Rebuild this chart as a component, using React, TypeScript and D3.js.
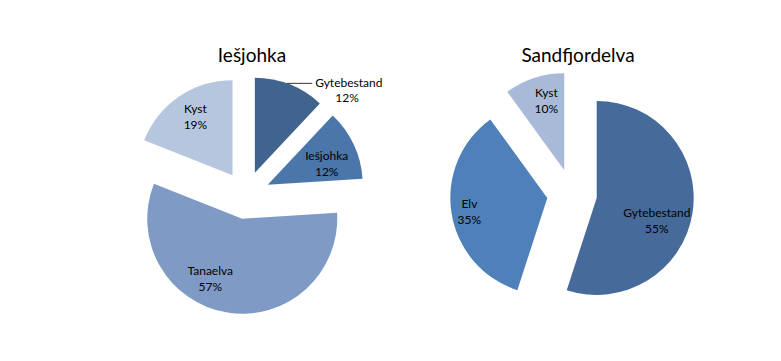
import { useEffect, useRef } from 'react';
import * as d3 from 'd3';

// Iešjohka
const leftCategories = ['Gytebestand', 'Iešjohka', 'Tanaelva', 'Kyst'];
const leftValues = [12, 12, 57, 19];
const leftColors = ['#41648f', '#4a76aa', '#7f9bc5', '#b7c6df'];

// Sandfjordelva
const rightCategories = ['Gytebestand', 'Elv', 'Kyst'];
const rightValues = [55, 35, 10];
const rightColors = ['#466a9a', '#4f80ba', '#a8bad7'];

// label placement relative to the exploded slice apex: [angle deg, distance], null = outside with leader
const leftLabelPos: ([number, number] | null)[] = [null, [69.5, 63], [208.5, 67], [328, 70]];
const rightLabelPos: ([number, number] | null)[] = [[110, 64], [260.5, 79], [345.6, 72]];

interface PieSpec {
  title: string;
  cats: string[];
  vals: number[];
  colors: string[];
  labels: ([number, number] | null)[];
  cx: number;
  cy: number;
  r: number;
  explode: number;
}

const pies: PieSpec[] = [
  { title: 'Iešjohka', cats: leftCategories, vals: leftValues, colors: leftColors, labels: leftLabelPos, cx: 246, cy: 195, r: 95, explode: 24 },
  { title: 'Sandfjordelva', cats: rightCategories, vals: rightValues, colors: rightColors, labels: rightLabelPos, cx: 572, cy: 194, r: 97, explode: 25 },
];

const App = () => {
  const svgRef = useRef<SVGSVGElement | null>(null);

  useEffect(() => {
    const svg = d3.select(svgRef.current);
    svg.selectAll('*').remove();
    const font = 'Lato, "Open Sans", sans-serif';

    pies.forEach((p) => {
      const data = p.vals.map((v, i) => ({ name: p.cats[i], value: v, color: p.colors[i], lab: p.labels[i] }));
      const arcs = d3.pie<any>().sort(null).value((d) => d.value)(data);
      const arcGen = d3.arc<any>().innerRadius(0).outerRadius(p.r);
      const total = d3.sum(p.vals);

      const g = svg.append('g').attr('transform', `translate(${p.cx},${p.cy})`);

      svg.append('text')
        .attr('x', p.cx + 6)
        .attr('y', 62)
        .attr('text-anchor', 'middle')
        .attr('font-family', font)
        .attr('font-size', 19)
        .attr('fill', '#000')
        .text(p.title);

      arcs.forEach((a) => {
        const mid = (a.startAngle + a.endAngle) / 2;
        const ox = Math.sin(mid) * p.explode;
        const oy = -Math.cos(mid) * p.explode;
        const sg = g.append('g').attr('transform', `translate(${ox},${oy})`);
        sg.append('path').attr('d', arcGen(a) as string).attr('fill', a.data.color);

        const pct = `${Math.round((a.data.value / total) * 100)}%`;
        const lab = a.data.lab as [number, number] | null;
        let lx: number;
        let ly: number;
        let anchor = 'middle';
        if (lab) {
          const ang = (lab[0] * Math.PI) / 180;
          lx = Math.sin(ang) * lab[1];
          ly = -Math.cos(ang) * lab[1];
          const t = sg.append('text')
            .attr('font-family', font)
            .attr('font-size', 12)
            .attr('fill', '#000')
            .attr('text-anchor', anchor);
          t.append('tspan').attr('x', lx).attr('y', ly - 3).text(a.data.name);
          t.append('tspan').attr('x', lx).attr('y', ly + 13).text(pct);
        } else {
          const ang = mid - 0.03;
          const px = Math.sin(ang) * p.r;
          const py = -Math.cos(ang) * p.r;
          sg.append('line')
            .attr('x1', px).attr('y1', py)
            .attr('x2', px + 25).attr('y2', py)
            .attr('stroke', '#000').attr('stroke-width', 0.8);
          lx = px + 28;
          ly = py;
          sg.append('text')
            .attr('x', lx).attr('y', ly + 4)
            .attr('font-family', font).attr('font-size', 12).attr('fill', '#000')
            .text(a.data.name);
          sg.append('text')
            .attr('x', lx + 32).attr('y', ly + 19)
            .attr('text-anchor', 'middle')
            .attr('font-family', font).attr('font-size', 12).attr('fill', '#000')
            .text(pct);
        }
      });
    });
  }, []);

  return (
    <div style={{ position: 'absolute', left: 0, top: 0 }}>
      <svg ref={svgRef} width={781} height={361} style={{ display: 'block', background: '#fff' }} />
    </div>
  );
};

export default App;
